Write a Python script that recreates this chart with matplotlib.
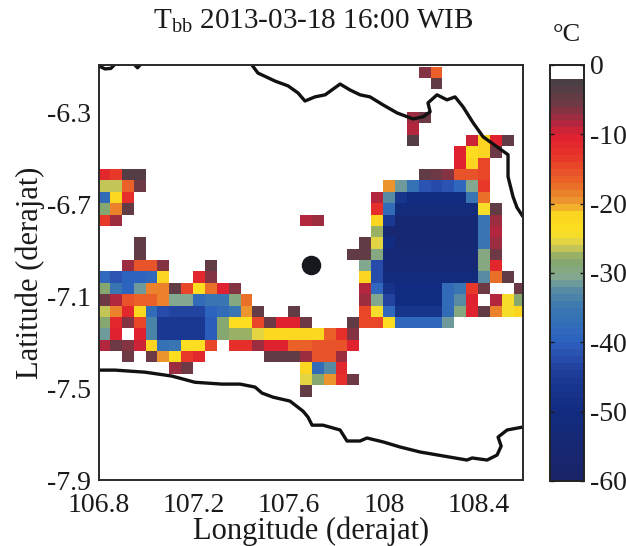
import numpy as np
import matplotlib
matplotlib.use("Agg")
import matplotlib.pyplot as plt
from matplotlib.colors import LinearSegmentedColormap, Normalize

plt.rcParams['font.family'] = ['Liberation Serif', 'DejaVu Serif']
plt.rcParams['mathtext.fontset'] = 'custom'
plt.rcParams['mathtext.rm'] = 'Liberation Serif'
plt.rcParams['axes.unicode_minus'] = False

N = np.nan

# Tbb on the grid, top row first, 0.05 deg cells (gaps are cloud free)
tbb = [
    [N,N,N,N,N,N, N,N,N,N,N,N, N,N,N,N,N,N, N,N,N,N,N,N, N,N,N,-7,-17,N, N,N,N,N,N,N],
    [N,N,N,N,N,N, N,N,N,N,N,N, N,N,N,N,N,N, N,N,N,N,N,N, N,N,N,N,-5,N, N,N,N,N,N,N],
    [N]*36,
    [N]*36,
    [N,N,N,N,N,N, N,N,N,N,N,N, N,N,N,N,N,N, N,N,N,N,N,N, N,N,-8,-6,N,N, N,N,N,N,N,N],
    [N,N,N,N,N,N, N,N,N,N,N,N, N,N,N,N,N,N, N,N,N,N,N,N, N,N,-9,N,N,N, N,N,N,N,N,N],
    [N,N,N,N,N,N, N,N,N,N,N,N, N,N,N,N,N,N, N,N,N,N,N,N, N,N,-4,N,N,N, N,-10,-22,-11,-5,N],
    [N,N,N,N,N,N, N,N,N,N,N,N, N,N,N,N,N,N, N,N,N,N,N,N, N,N,N,N,N,N, -11,-24,-22,-6,N,N],
    [N,N,N,N,N,N, N,N,N,N,N,N, N,N,N,N,N,N, N,N,N,N,N,N, N,N,N,N,N,N, -11,-22,-15,N,N,N],
    [-12,-14,-4,-4,N,N, N,N,N,N,N,N, N,N,N,N,N,N, N,N,N,N,N,N, N,N,N,-5,-6,-7, -16,-16,-15,N,N,N],
    [-27,-27,-17,-6,N,N, N,N,N,N,N,N, N,N,N,N,N,N, N,N,N,N,N,N, -20,-32,-37,-42,-43,-42, -39,-31,-14,N,N,N],
    [-38,-23,-13,N,N,N, N,N,N,N,N,N, N,N,N,N,N,N, N,N,N,N,N,-9, -33,-47,-50,-50,-50,-50, -50,-36,-18,N,N,N],
    [-29,-19,-5,N,N,N, N,N,N,N,N,N, N,N,N,N,N,N, N,N,N,N,N,-13, -38,-52,-52,-52,-52,-52, -52,-52,-25,-5,N,N],
    [-14,-8,N,N,N,N, N,N,N,N,N,N, N,N,N,N,N,-9, -8,N,N,N,N,-22, -46,-55,-55,-55,-55,-55, -55,-55,-36,-8,N,N],
    [N,N,N,N,N,N, N,N,N,N,N,N, N,N,N,N,N,N, N,N,N,N,N,-28, -55,-55,-55,-55,-55,-55, -55,-55,-36,-9,N,N],
    [N,N,N,-5,N,N, N,N,N,N,N,N, N,N,N,N,N,N, N,N,N,N,-5,-26, -50,-55,-55,-55,-55,-55, -55,-55,-36,-8,N,N],
    [N,N,N,-5,N,N, N,N,N,N,N,N, N,N,N,N,N,N, N,N,N,-5,-5,-30, -54,-54,-54,-54,-54,-54, -54,-54,-30,-6,N,N],
    [N,N,-8,-16,-16,-7, N,N,N,-5,N,N, N,N,N,N,N,N, N,N,N,N,-31,-43, -54,-54,-54,-54,-54,-54, -54,-54,-30,-12,N,N],
    [-39,-42,-40,-40,-39,-22, N,N,-12,-7,N,N, N,N,N,N,N,N, N,N,N,N,-22,-43, -52,-52,-52,-52,-52,-52, -52,-52,-33,-18,-5,N],
    [-29,-36,-40,-32,-19,-19, -5,-15,-24,-18,-11,-7, N,N,N,N,N,N, N,N,N,N,-9,-39, -48,-50,-50,-50,-50,-38, -36,-14,-6,N,N,-6],
    [-6,-9,-16,-17,-17,-19, -31,-31,-38,-36,-36,-30, -18,N,N,N,N,N, N,N,N,N,-8,-31, -44,-50,-50,-50,-50,-38, -33,-11,N,-9,-25,-29],
    [-27,-19,-12,-23,-38,-43, -44,-44,-44,-40,-38,-36, -20,-5,N,N,-5,N, N,N,N,N,-15,-25, -39,-47,-47,-47,-47,-38, -30,-11,-5,-19,-25,-22],
    [-29,-12,-7,-15,-34,-46, -46,-46,-46,-41,-29,-24, -24,-15,-6,-11,-11,-6, N,N,N,-5,-15,-15, -24,-39,-39,-39,-39,-32, N,N,N,N,N,N],
    [-32,-11,N,-11,-34,-46, -46,-46,-46,-41,-29,-28, -28,-26,-23,-23,-23,-23, -23,-17,-13,-7,N,N, N,N,N,N,N,N, N,N,N,N,N,N],
    [-9,-6,-7,-10,-22,-37, -36,-24,-24,-15,N,-13, -13,-8,-11,-11,-17,-17, -16,-16,-16,-11,N,N, N,N,N,N,N,N, N,N,N,N,N,N],
    [N,N,-6,N,-6,-20, -24,-14,-12,N,N,N, N,N,-5,-5,-5,-8, -16,-16,-8,N,N,N, N,N,N,N,N,N, N,N,N,N,N,N],
    [N,N,N,N,N,N, -8,-6,N,N,N,N, N,N,N,N,N,-22, -38,-33,-12,N,N,N, N,N,N,N,N,N, N,N,N,N,N,N],
    [N,N,N,N,N,N, N,N,N,N,N,N, N,N,N,N,N,-26, -29,-20,-13,-6,N,N, N,N,N,N,N,N, N,N,N,N,N,N],
    [N,N,N,N,N,N, N,N,N,N,N,N, N,N,N,N,N,-5, N,N,N,N,N,N, N,N,N,N,N,N, N,N,N,N,N,N],
]

# coast lines
north_lon = [107.444, 107.469, 107.541, 107.596, 107.638, 107.667, 107.709, 107.752, 107.815, 107.857,
             107.899, 107.941, 107.996, 108.055, 108.122, 108.164, 108.194, 108.185, 108.223, 108.265,
             108.299, 108.333, 108.375, 108.417, 108.476, 108.522, 108.522, 108.543, 108.560, 108.585]
north_lat = [-6.091, -6.126, -6.161, -6.182, -6.213, -6.248, -6.230, -6.221, -6.174, -6.200,
             -6.221, -6.230, -6.265, -6.300, -6.326, -6.317, -6.295, -6.256, -6.221, -6.243,
             -6.230, -6.274, -6.343, -6.404, -6.448, -6.482, -6.578, -6.665, -6.713, -6.752]
south_lon = [106.800, 106.867, 106.994, 107.107, 107.204, 107.318, 107.394, 107.457, 107.486, 107.533,
             107.604, 107.659, 107.680, 107.697, 107.743, 107.815, 107.844, 107.899, 107.928, 107.996,
             108.067, 108.152, 108.248, 108.349, 108.371, 108.434, 108.476, 108.493, 108.480, 108.518, 108.585]
south_lat = [-7.421, -7.421, -7.430, -7.447, -7.474, -7.482, -7.482, -7.495, -7.521, -7.539,
             -7.556, -7.600, -7.626, -7.661, -7.661, -7.682, -7.730, -7.730, -7.717, -7.734,
             -7.756, -7.778, -7.795, -7.813, -7.804, -7.813, -7.791, -7.752, -7.713, -7.682, -7.669]
corner_lon = [106.800, 106.825, 106.850, 106.862]
corner_lat = [-6.095, -6.108, -6.106, -6.093]
speck_lon = [106.951, 106.962, 106.973]
speck_lat = [-6.091, -6.103, -6.091]

station_lon = [107.693]
station_lat = [-6.961]

lon_ticks = [106.8, 107.2, 107.6, 108, 108.4]
lat_ticks = [-6.3, -6.7, -7.1, -7.5, -7.9]
cbar_ticks = [0, -10, -20, -30, -40, -50, -60]

# colour scale, (deg C, colour)
scale_temp = [-60, -50, -45, -42, -40, -35, -32, -31, -28, -27, -26, -24, -21, -20, -17, -13, -10, -8, -5, -2.01, -2, 0]
scale_col = ['#1a2468', '#122c80', '#1c3a95', '#2a50b0', '#2b62c0', '#3a78b0', '#5d8ea0', '#82a898',
             '#87a868', '#a8b860', '#d8cf50', '#fce020', '#fcd320', '#eca030', '#ea6a28', '#e8352a',
             '#e0202f', '#b0283f', '#6b3a45', '#4a3f45', '#ffffff', '#ffffff']

nodes = [(t + 60) / 60 for t in scale_temp]
cmap = LinearSegmentedColormap.from_list('tbb', list(zip(nodes, scale_col)), N=60)
norm = Normalize(vmin=-60, vmax=0)

fig = plt.figure(figsize=(6.26, 5.46), dpi=100)
W, H = 626, 546
ax = fig.add_axes([99 / W, 1 - 480 / H, 424 / W, 415 / H])

lon_edges = 106.796 + 0.05 * np.arange(37)
lat_edges = -6.098 - 0.0496 * np.arange(30)
mesh = ax.pcolormesh(lon_edges, lat_edges, np.array(tbb, dtype=float), cmap=cmap, norm=norm)

for lons, lats in [(north_lon, north_lat), (south_lon, south_lat), (corner_lon, corner_lat), (speck_lon, speck_lat)]:
    ax.plot(lons, lats, color='#111111', lw=2.4)
ax.scatter(station_lon, station_lat, s=170, color='#15181c', zorder=5)

ax.set_xlim(106.8, 108.585)
ax.set_ylim(-7.9, -6.091)
ax.set_xticks(lon_ticks)
ax.set_xticklabels(['106.8', '107.2', '107.6', '108', '108.4'])
ax.set_yticks(lat_ticks)
ax.set_yticklabels(['-6.3', '-6.7', '-7.1', '-7.5', '-7.9'])
ax.tick_params(length=0, labelsize=20, colors='#1a1a1a')
ax.tick_params(axis='x', pad=9.5)
ax.tick_params(axis='y', pad=6)
for s in ax.spines.values():
    s.set_linewidth(1.4)
    s.set_color('#2a2a2a')

ax.set_xlabel('Longitude (derajat)', fontsize=22, color='#1a1a1a', labelpad=-1)
ax.set_ylabel('Latitude (derajat)', fontsize=22, color='#1a1a1a', labelpad=1)
fig.text(313 / W, 1 - 21 / H, r'T$_{\mathrm{bb}}$ 2013-03-18 16:00 WIB', fontsize=21, color='#1a1a1a', ha='center', va='center')

cax = fig.add_axes([550 / W, 1 - 481 / H, 34 / W, 416 / H])
cb = fig.colorbar(mesh, cax=cax, ticks=cbar_ticks)
cb.ax.set_yticklabels([str(t) for t in cbar_ticks])
cax.tick_params(direction='in', length=3, width=1, left=True, right=True, labelsize=20, pad=4, colors='#1a1a1a')
cb.outline.set_linewidth(1.4)
cb.outline.set_edgecolor('#222222')
cax.set_title('°C', fontsize=19, color='#1a1a1a', pad=17)

fig.savefig('out.png', dpi=100)
